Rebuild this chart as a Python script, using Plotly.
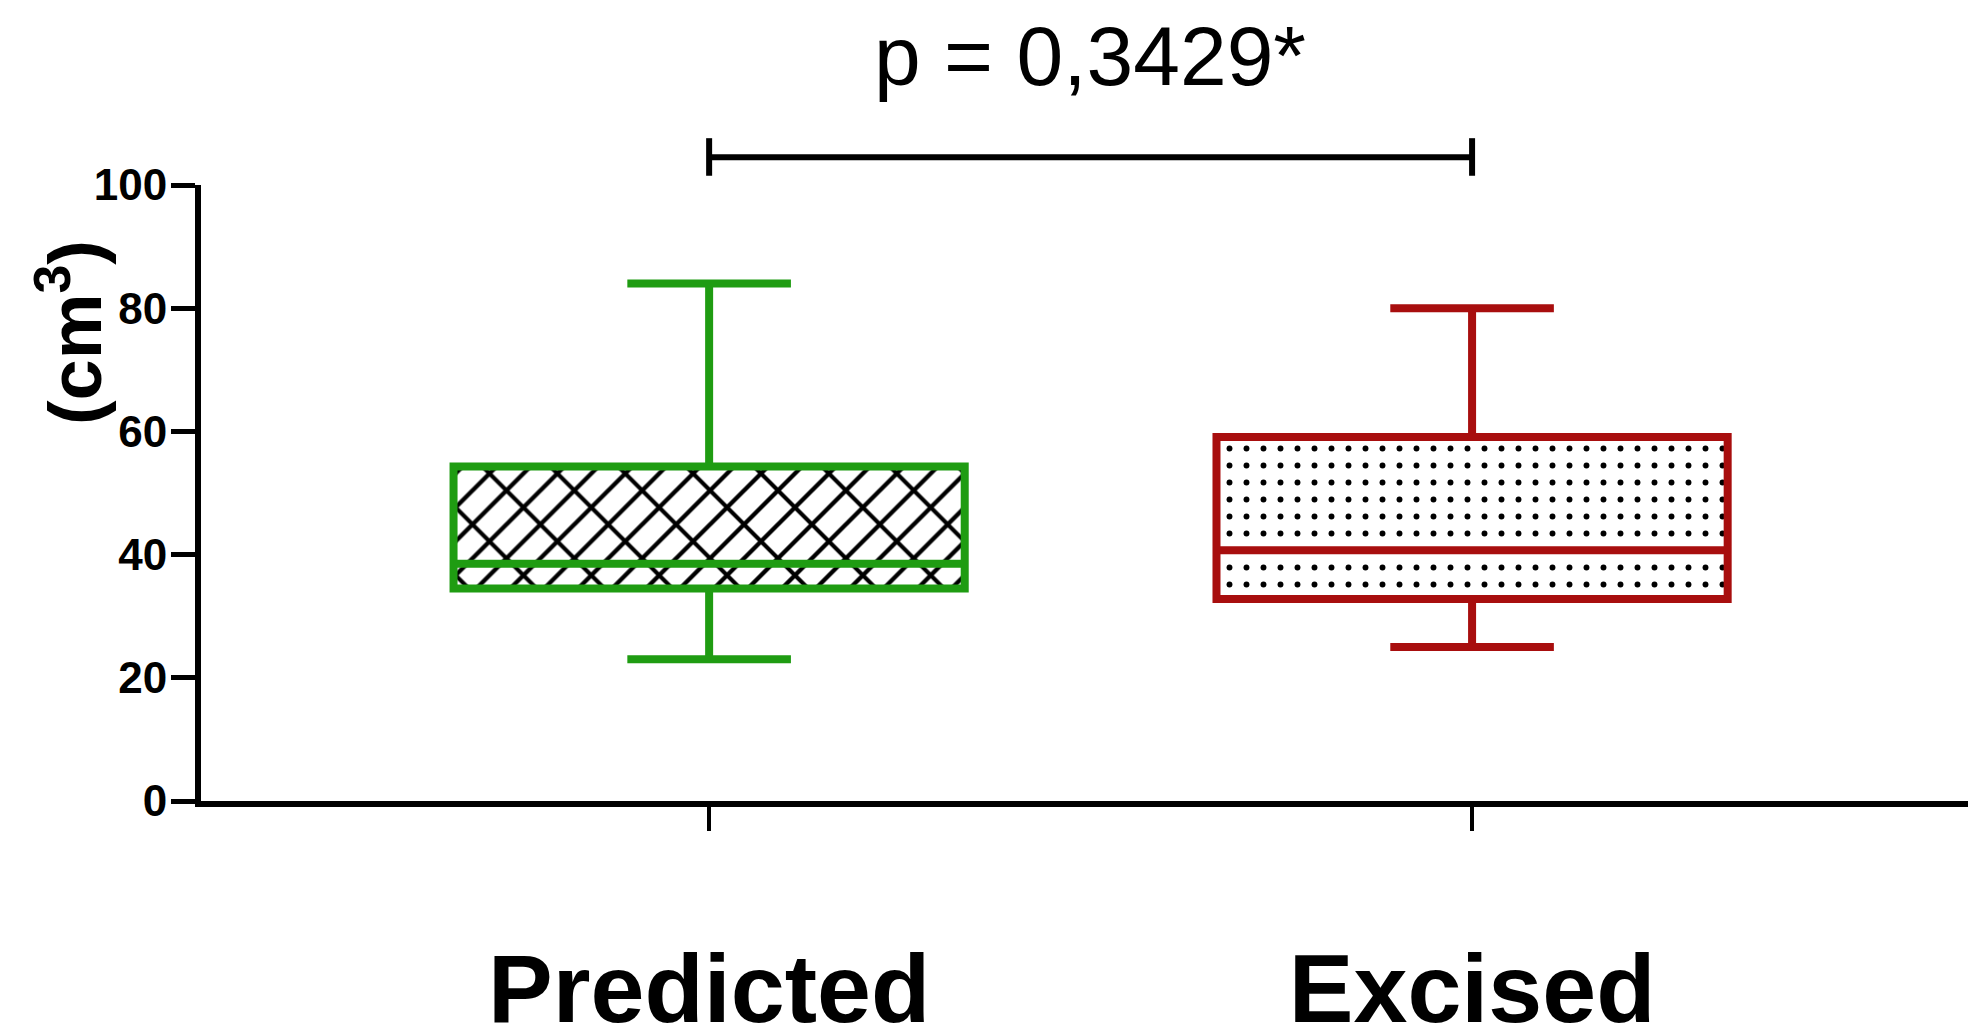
import plotly.graph_objects as go

# Five-number summaries (cm³) for each group
categories = ["Predicted", "Excised"]
lower_fence = [23.0, 25.0]
q1 = [34.5, 32.8]
median = [38.5, 40.7]
q3 = [54.3, 59.1]
upper_fence = [84.0, 80.0]

y_ticks = [0, 20, 40, 60, 80, 100]
p_label = "p = 0,3429*"
y_label = "(cm<sup>3</sup>)"

# Significance bracket levels, in data units above the axis top
sig_level = 104.5
sig_cap_top = 107.6
sig_cap_bottom = 101.5

line_colors = ["#1f9c12", "#a80e0e"]
box_width = 0.67
font_family = "Liberation Sans, Arial, Helvetica, sans-serif"
Y_MAX = 100

fig = go.Figure()

# Patterned fills between Q1 and Q3
heights = [b - a for a, b in zip(q1, q3)]
fig.add_trace(go.Bar(
    x=[categories[0]], y=[heights[0]], base=[q1[0]], width=box_width,
    marker=dict(color="white", line=dict(width=0),
                pattern=dict(shape="/", size=24, solidity=0.18,
                             fgcolor="black", fgopacity=1,
                             fillmode="overlay")),
    hoverinfo="skip", showlegend=False,
))
fig.add_trace(go.Bar(
    x=[categories[0]], y=[heights[0]], base=[q1[0]], width=box_width,
    marker=dict(color="rgba(0,0,0,0)", line=dict(width=0),
                pattern=dict(shape="\\", size=48, solidity=0.085,
                             fgcolor="black", fgopacity=1,
                             bgcolor="rgba(0,0,0,0)", fillmode="overlay")),
    hoverinfo="skip", showlegend=False,
))
fig.add_trace(go.Bar(
    x=[categories[1]], y=[heights[1]], base=[q1[1]], width=box_width,
    marker=dict(color="white", line=dict(width=0),
                pattern=dict(shape=".", size=17, solidity=0.095,
                             fgcolor="black", fgopacity=1,
                             fillmode="overlay")),
    hoverinfo="skip", showlegend=False,
))

# Box outlines, medians and whiskers
for i, cat in enumerate(categories):
    fig.add_trace(go.Box(
        x=[cat], q1=[q1[i]], median=[median[i]], q3=[q3[i]],
        lowerfence=[lower_fence[i]], upperfence=[upper_fence[i]],
        width=box_width, whiskerwidth=0.32,
        fillcolor="rgba(0,0,0,0)",
        line=dict(color=line_colors[i], width=8),
        boxpoints=False, hoverinfo="skip", showlegend=False,
    ))

# Significance bracket between the two groups
bracket = dict(color="black", width=6)
fig.add_shape(type="line", xref="x", yref="paper",
              x0=categories[0], x1=categories[1],
              y0=sig_level / Y_MAX, y1=sig_level / Y_MAX, line=bracket)
for cat in categories:
    fig.add_shape(type="line", xref="x", yref="paper", x0=cat, x1=cat,
                  y0=sig_cap_bottom / Y_MAX, y1=sig_cap_top / Y_MAX,
                  line=bracket)

fig.add_annotation(text=p_label, xref="paper", yref="paper",
                   x=(1090 - 201) / 1767, y=1.21, showarrow=False,
                   xanchor="center", yanchor="middle",
                   font=dict(family=font_family, size=84, color="black"))

fig.add_annotation(text=y_label, xref="paper", yref="paper",
                   x=-0.074, y=0.76, showarrow=False, textangle=-90,
                   xanchor="center", yanchor="middle",
                   font=dict(family=font_family, size=74, color="black",
                             weight="bold"))

fig.update_layout(
    width=1968, height=1033,
    margin=dict(l=201, r=0, t=185, b=232),
    paper_bgcolor="white", plot_bgcolor="white",
    barmode="overlay", bargap=0,
    showlegend=False,
    font=dict(family=font_family, color="black"),
)

fig.update_xaxes(
    type="category", categoryorder="array", categoryarray=categories,
    range=[-0.666, 1.650], automargin=False,
    showline=True, linecolor="black", linewidth=6,
    ticks="outside", ticklen=24, tickwidth=4, tickcolor="black",
    tickfont=dict(family=font_family, size=97, color="black", weight="bold"),
    ticklabelstandoff=75,
    showgrid=False, zeroline=False,
)
fig.update_yaxes(
    range=[0, Y_MAX], tickvals=y_ticks, automargin=False,
    showline=True, linecolor="black", linewidth=6,
    ticks="outside", ticklen=24, tickwidth=5, tickcolor="black",
    tickfont=dict(family=font_family, size=44, color="black", weight="bold"),
    ticklabelstandoff=-5,
    showgrid=False, zeroline=False,
)

fig.write_html("out.html")
